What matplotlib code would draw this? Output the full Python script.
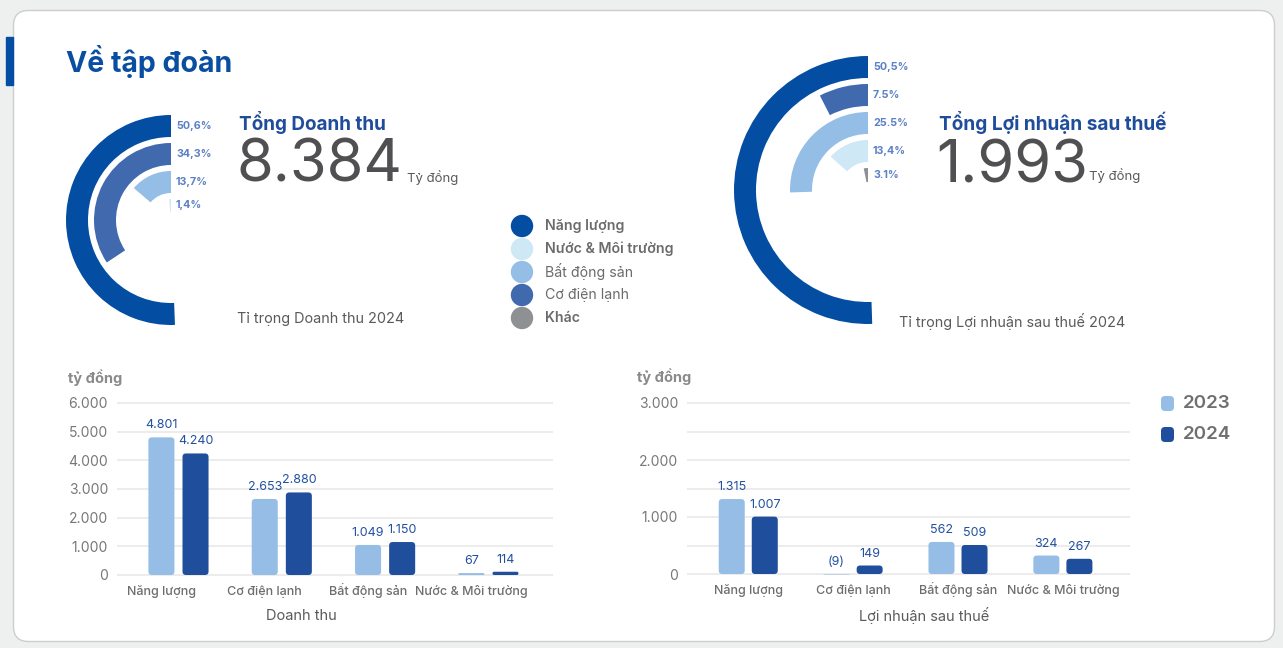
import matplotlib
matplotlib.use("Agg")
import matplotlib.pyplot as plt
import numpy as np
from matplotlib.patches import FancyBboxPatch, Rectangle
from matplotlib.ticker import FuncFormatter

plt.rcParams["font.family"] = ["Inter", "DejaVu Sans"]

# ---- data -------------------------------------------------------------
segments = ["Năng lượng", "Nước & Môi trường", "Bất động sản", "Cơ điện lạnh", "Khác"]
segment_colors = ["#034ea2", "#cfe8f5", "#95bee6", "#4169ae", "#8e9093"]
legend_bold = [True, True, False, False, True]

rev_rings = ["Năng lượng", "Cơ điện lạnh", "Bất động sản", "Nước & Môi trường"]
rev_share = [50.6, 34.3, 13.7, 1.4]
rev_share_labels = ["50,6%", "34,3%", "13,7%", "1,4%"]
rev_total = "8.384"

profit_rings = ["Năng lượng", "Cơ điện lạnh", "Bất động sản", "Nước & Môi trường", "Khác"]
profit_share = [50.5, 7.5, 25.5, 13.4, 3.1]
profit_share_labels = ["50,5%", "7.5%", "25.5%", "13,4%", "3.1%"]
profit_total = "1.993"

bar_cats = ["Năng lượng", "Cơ điện lạnh", "Bất động sản", "Nước & Môi trường"]
years = ["2023", "2024"]
year_colors = ["#95bde6", "#1f4e9c"]
rev_2023 = [4801, 2653, 1049, 67]
rev_2024 = [4240, 2880, 1150, 114]
profit_2023 = [1315, -9, 562, 324]
profit_2024 = [1007, 149, 509, 267]

W, H = 1283, 648
fig = plt.figure(figsize=(W / 100, H / 100), dpi=100, facecolor="#eef0ef")


def px_rect(x0, y0, x1, y1):
    return [x0 / W, 1 - y1 / H, (x1 - x0) / W, (y1 - y0) / H]


def vn(v):
    if v < 0:
        return f"({-v:,})".replace(",", ".")
    return f"{v:,}".replace(",", ".")


# ---- background card and free text --------------------------------------
bg = fig.add_axes([0, 0, 1, 1], zorder=0)
bg.set_xlim(0, W)
bg.set_ylim(H, 0)
bg.axis("off")
bg.add_patch(FancyBboxPatch((13.5, 10.5), 1261, 631, boxstyle="round,pad=0,rounding_size=15",
                            facecolor="white", edgecolor="#cdcdcd", lw=1))
bg.add_patch(Rectangle((6, 37), 7, 48, color="#034ea2"))
bg.text(66, 62, "Về tập đoàn", fontsize=20.5, fontweight="bold", color="#0a4ea2", va="center")

blue_head = "#1f4c9b"
num_gray = "#505052"
txt_gray = "#5a5a5a"

bg.text(239, 123, "Tổng Doanh thu", fontsize=13.6, fontweight="bold", color=blue_head, va="center")
bg.text(236, 166, rev_total, fontsize=43, fontweight="normal", color=num_gray, va="center")
bg.text(407, 178, "Tỷ đồng", fontsize=9.5, color=txt_gray, va="center")
bg.text(237, 319, "Tỉ trọng Doanh thu 2024", fontsize=10.4, color=txt_gray, va="center")

bg.text(939, 123, "Tổng Lợi nhuận sau thuế", fontsize=13.7, fontweight="bold", color=blue_head, va="center")
bg.text(936, 167, profit_total, fontsize=43, fontweight="normal", color=num_gray, va="center")
bg.text(1089, 176, "Tỷ đồng", fontsize=9.5, color=txt_gray, va="center")
bg.text(899, 321, "Tỉ trọng Lợi nhuận sau thuế 2024", fontsize=10.4, color=txt_gray, va="center")

# segment legend
for i, (name, col, b) in enumerate(zip(segments, segment_colors, legend_bold)):
    y = 226 + 23 * i
    bg.scatter([522], [y], s=260, color=col, edgecolor="none")
    bg.text(545, y, name, fontsize=10.2, color="#6b6b6b", va="center",
            fontweight="semibold" if b else "normal")

# year legend
for i, (yr, col) in enumerate(zip(years, year_colors)):
    y = 396 + 31 * i
    bg.add_patch(FancyBboxPatch((1161, y), 13, 15, boxstyle="round,pad=0,rounding_size=4",
                                facecolor=col, edgecolor="none"))
    bg.text(1183, y + 7.5, yr, fontsize=13.5, fontweight="semibold", color="#707070", va="center")

bg.text(68, 378, "tỷ đồng", fontsize=10.5, fontweight="bold", color="#8a8a8a", va="center")
bg.text(637, 377, "tỷ đồng", fontsize=10.5, fontweight="bold", color="#8a8a8a", va="center")
bg.text(301, 616, "Doanh thu", fontsize=10.5, color=txt_gray, ha="center", va="center")
bg.text(924, 616, "Lợi nhuận sau thuế", fontsize=10.5, color=txt_gray, ha="center", va="center")


# ---- radial ring charts ---------------------------------------------------
def rings(cx, cy, r_max, shares, names, labels, pitch=28, thick=22):
    side = r_max + 4
    ax = fig.add_axes(px_rect(cx - side, cy - side, cx + side, cy + side), projection="polar", zorder=2)
    ax.set_theta_zero_location("N")
    ax.set_theta_direction(1)
    ax.set_ylim(0, side)
    n = len(shares)
    outer = r_max - pitch * np.arange(n)
    inner = np.maximum(outer - thick, 8)
    cols = [segment_colors[segments.index(nm)] for nm in names]
    ax.barh((outer + inner) / 2, np.array(shares) / 100 * 2 * np.pi, height=outer - inner,
            left=0, color=cols, edgecolor="none")
    for r, lab in zip((outer + inner) / 2, labels):
        ax.annotate(lab, (0, r), xytext=(5, 0), textcoords="offset pixels", ha="left", va="center",
                    fontsize=7.7, fontweight="bold", color="#5b80c4", annotation_clip=False)
    ax.axis("off")


rings(171, 220, 105, rev_share, rev_rings, rev_share_labels)
rings(868, 190, 134, profit_share, profit_rings, profit_share_labels)


# ---- grouped bars ---------------------------------------------------------
def rounded(ax, bars, sx, sy, radius_px=3.5):
    aspect = sx / sy
    for b in bars:
        x, y, w, h = b.get_x(), b.get_y(), b.get_width(), b.get_height()
        y0, hh = min(y, y + h), abs(h)
        r = min(radius_px / sx, w / 2, hh / aspect / 2)
        ax.add_patch(FancyBboxPatch((x, y0), w, hh, boxstyle=f"round,pad=0,rounding_size={r}",
                                    mutation_aspect=aspect, facecolor=b.get_facecolor(),
                                    edgecolor="none", zorder=3))
        b.remove()


def bar_panel(px, xlim, ylim, vals, offsets, width, major, minor=None, label_pad=13):
    x0, y_top, x1, y_zero = px
    sy = (y_zero - y_top) / major[-1]
    y_bot = y_zero - ylim[0] * sy
    y_t = y_zero - ylim[1] * sy
    ax = fig.add_axes(px_rect(x0, y_t, x1, y_bot), zorder=2)
    ax.set_facecolor("none")
    ax.set_xlim(*xlim)
    ax.set_ylim(*ylim)
    sx = (x1 - x0) / (xlim[1] - xlim[0])
    idx = np.arange(len(bar_cats))
    for series, off, col in zip(vals, offsets, year_colors):
        bars = ax.bar(idx + off, series, width=width, color=col)
        for xc, v in zip(idx + off, series):
            ax.annotate(vn(v), (xc, max(v, 0)), xytext=(0, 6), textcoords="offset pixels",
                        ha="center", va="bottom", fontsize=9, color="#2150a0")
        rounded(ax, bars, sx, sy)
    ax.set_yticks(major)
    if minor is not None:
        ax.set_yticks(minor, minor=True)
        ax.grid(True, axis="y", which="minor", color="#e9e9e9", lw=1.2)
    ax.grid(True, axis="y", which="major", color="#e9e9e9", lw=1.2)
    ax.set_axisbelow(True)
    ax.yaxis.set_major_formatter(FuncFormatter(lambda v, p: vn(int(v))))
    ax.set_xticks(idx)
    ax.set_xticklabels(bar_cats, fontsize=9, fontweight="medium", color="#6d6d6d", va="baseline")
    ax.tick_params(axis="y", length=0, which="both", labelsize=10, labelcolor="#777777", pad=6.5)
    ax.tick_params(axis="x", length=0, pad=label_pad)
    for s in ax.spines.values():
        s.set_visible(False)
    return ax


bar_panel((117, 403, 553, 575), (-0.43, 3.79), (-50, 6050), [rev_2023, rev_2024],
          [0.0, 0.33], 0.252, [0, 1000, 2000, 3000, 4000, 5000, 6000], label_pad=13.4)
bar_panel((687, 403, 1130, 574), (-0.584, 3.64), (-45, 3025), [profit_2023, profit_2024],
          [-0.1575, 0.1575], 0.248, [0, 1000, 2000, 3000], [500, 1500, 2500], label_pad=12.2)

fig.savefig("out.png", dpi=100, facecolor=fig.get_facecolor())
